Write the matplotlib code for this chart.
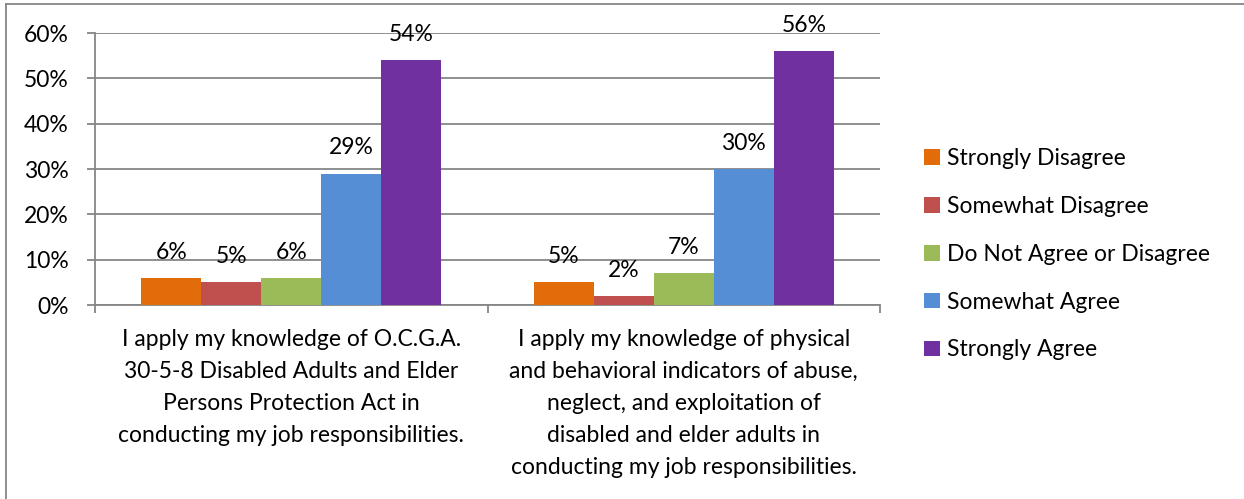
import matplotlib
matplotlib.use("Agg")
import matplotlib.pyplot as plt
from matplotlib.lines import Line2D
from matplotlib.patches import Patch
from matplotlib.ticker import FixedLocator, FuncFormatter
import numpy as np

plt.rcParams['font.family'] = ['Lato', 'DejaVu Sans']

categories = [
    "I apply my knowledge of O.C.G.A.\n30-5-8 Disabled Adults and Elder\nPersons Protection Act in\nconducting my job responsibilities.",
    "I apply my knowledge of physical\nand behavioral indicators of abuse,\nneglect, and exploitation of\ndisabled and elder adults in\nconducting my job responsibilities.",
]
series_names = ["Strongly Disagree", "Somewhat Disagree", "Do Not Agree or Disagree",
                "Somewhat Agree", "Strongly Agree"]
values = {
    "Strongly Disagree": [0.06, 0.05],
    "Somewhat Disagree": [0.05, 0.02],
    "Do Not Agree or Disagree": [0.06, 0.07],
    "Somewhat Agree": [0.29, 0.30],
    "Strongly Agree": [0.54, 0.56],
}
colors = ["#E36C0A", "#C0504D", "#9BBB59", "#558ED5", "#7030A0"]
yticks = [0.0, 0.1, 0.2, 0.3, 0.4, 0.5, 0.6]

W, H = 1244, 499
fig = plt.figure(figsize=(W / 100, H / 100), dpi=100)
ax = fig.add_axes([95 / W, 1 - 305 / H, (880 - 95) / W, (305 - 33) / H])

gray = "#868686"
fs = 16.5
n = len(series_names)
bw = 0.153
x = np.arange(len(categories))
for i, name in enumerate(series_names):
    pos = x + (i - (n - 1) / 2) * bw
    bars = ax.bar(pos, values[name], width=bw, color=colors[i], label=name, zorder=3)
    for b, v in zip(bars, values[name]):
        ax.annotate(f"{round(v * 100)}%", (b.get_x() + b.get_width() / 2, v),
                    xytext=(0, 18.5), textcoords="offset points",
                    ha="center", va="center", fontsize=fs, zorder=4)

ax.set_xlim(-0.5, len(categories) - 0.5)
ax.set_ylim(0, 0.6)
ax.set_yticks(yticks)
ax.yaxis.set_major_formatter(FuncFormatter(lambda v, p: f"{round(v * 100)}%"))
ax.grid(axis="y", color=gray, linewidth=1.3, zorder=0)
ax.set_axisbelow(True)

ax.set_xticks(x)
ax.set_xticklabels(categories, fontsize=fs, linespacing=1.66)
ax.xaxis.set_minor_locator(FixedLocator(np.arange(-0.5, len(categories), 1.0)))
ax.tick_params(axis="x", which="major", length=0, pad=17)
ax.tick_params(axis="x", which="minor", length=6, color=gray, width=1.3)
ax.tick_params(axis="y", length=6, color=gray, width=1.3, pad=13, labelsize=fs)

for s in ["top", "right"]:
    ax.spines[s].set_visible(False)
for s in ["left", "bottom"]:
    ax.spines[s].set_color(gray)
    ax.spines[s].set_linewidth(1.3)

handles = [Patch(facecolor=c, edgecolor="none") for c in colors]
fig.legend(handles, series_names, loc="upper left", bbox_to_anchor=(915 / W, 1 - 139 / H),
           frameon=False, fontsize=fs, handlelength=0.68, handleheight=0.68,
           handletextpad=0.3, labelspacing=1.17, borderaxespad=0)

# outer chart border (left and top visible)
fig.add_artist(Line2D([6 / W, 6 / W], [0, 1 - 4 / H], color=gray, linewidth=1.3))
fig.add_artist(Line2D([6 / W, 1], [1 - 4 / H, 1 - 4 / H], color=gray, linewidth=1.3))

fig.savefig("out.png", dpi=100)
